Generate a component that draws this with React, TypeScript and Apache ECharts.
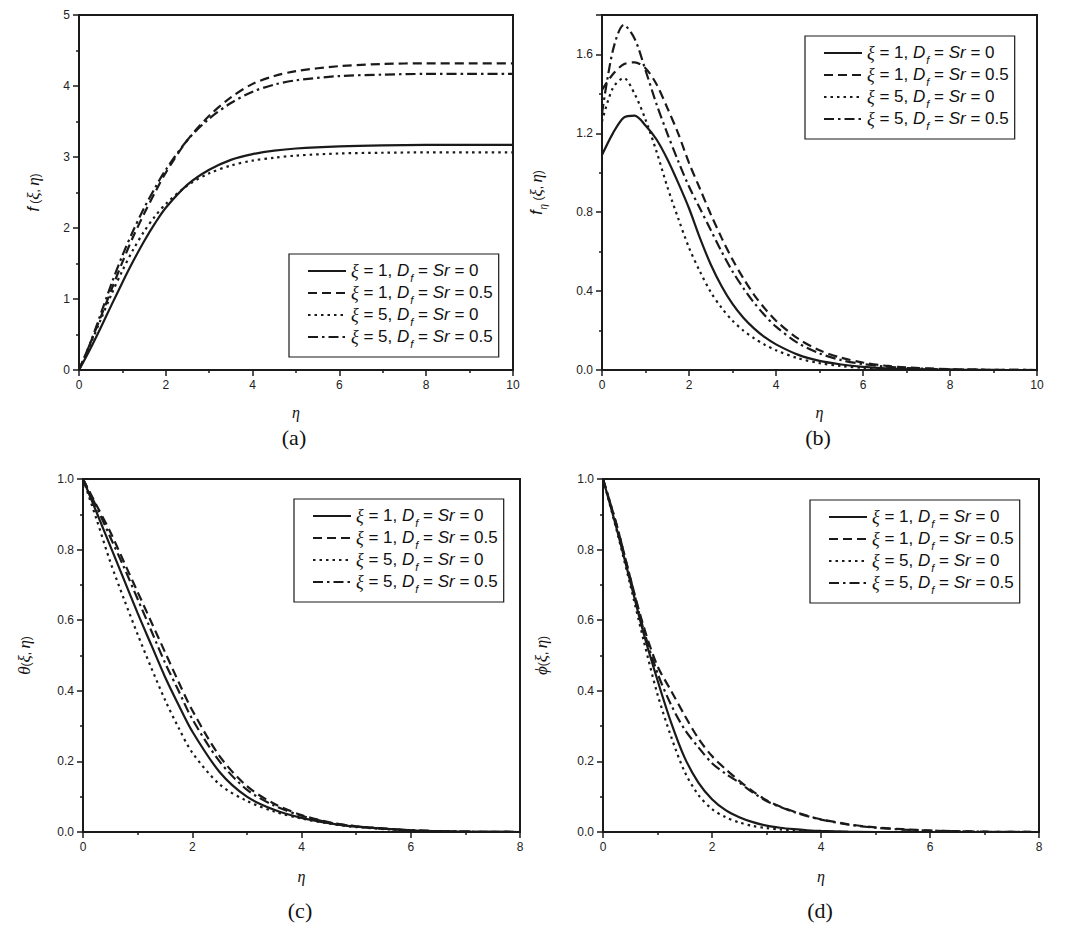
import React, { useEffect, useRef } from "react";
import * as echarts from "echarts";

// ---------- data ----------
const seriesNames = [
  "ξ = 1, Df = Sr = 0",
  "ξ = 1, Df = Sr = 0.5",
  "ξ = 5, Df = Sr = 0",
  "ξ = 5, Df = Sr = 0.5",
];
const xiValues = ["1", "1", "5", "5"];
const dfSrValues = ["0", "0.5", "0", "0.5"];

// (a) f(xi, eta)
const etaA = [0, 0.25, 0.5, 0.75, 1, 1.25, 1.5, 1.75, 2, 2.5, 3, 3.5, 4, 4.5, 5, 6, 7, 8, 9, 10];
const fA1 = [0, 0.286, 0.596, 0.917, 1.233, 1.534, 1.814, 2.065, 2.285, 2.61, 2.82, 2.96, 3.04, 3.09, 3.12, 3.15, 3.165, 3.17, 3.17, 3.17];
const fA2 = [0, 0.365, 0.746, 1.135, 1.52, 1.88, 2.2, 2.5, 2.78, 3.24, 3.58, 3.84, 4.03, 4.14, 4.21, 4.28, 4.31, 4.32, 4.32, 4.32];
const fA3 = [0, 0.345, 0.71, 1.069, 1.4, 1.696, 1.951, 2.164, 2.338, 2.6, 2.77, 2.88, 2.95, 2.99, 3.02, 3.05, 3.06, 3.065, 3.065, 3.065];
const fA4 = [0, 0.365, 0.788, 1.218, 1.613, 1.964, 2.28, 2.563, 2.82, 3.24, 3.54, 3.76, 3.92, 4.02, 4.08, 4.14, 4.16, 4.17, 4.17, 4.17];

// (b) f_eta(xi, eta)
const etaB = [0, 0.25, 0.5, 0.75, 1, 1.25, 1.5, 1.75, 2, 2.25, 2.5, 2.75, 3, 3.25, 3.5, 3.75, 4, 4.5, 5, 5.5, 6, 6.5, 7, 8, 9, 10];
const fpB1 = [1.09, 1.2, 1.28, 1.29, 1.24, 1.17, 1.07, 0.95, 0.82, 0.67, 0.535, 0.425, 0.335, 0.265, 0.21, 0.165, 0.13, 0.078, 0.046, 0.028, 0.016, 0.009, 0.005, 0.001, 0, 0];
const fpB2 = [1.42, 1.5, 1.55, 1.56, 1.53, 1.45, 1.33, 1.2, 1.05, 0.92, 0.79, 0.67, 0.56, 0.465, 0.38, 0.31, 0.25, 0.16, 0.1, 0.062, 0.038, 0.022, 0.013, 0.004, 0.001, 0];
const fpB3 = [1.26, 1.43, 1.48, 1.4, 1.27, 1.11, 0.93, 0.77, 0.62, 0.5, 0.395, 0.315, 0.25, 0.2, 0.16, 0.127, 0.1, 0.06, 0.035, 0.02, 0.011, 0.006, 0.003, 0.001, 0, 0];
const fpB4 = [1.3, 1.62, 1.75, 1.68, 1.52, 1.35, 1.2, 1.06, 0.93, 0.82, 0.71, 0.6, 0.5, 0.415, 0.34, 0.275, 0.22, 0.137, 0.084, 0.05, 0.03, 0.018, 0.01, 0.003, 0.001, 0];

// (c) theta(xi, eta)
const etaC = [0, 0.25, 0.5, 0.75, 1, 1.25, 1.5, 1.75, 2, 2.5, 3, 3.5, 4, 4.5, 5, 6, 7, 8];
const thC1 = [1, 0.905, 0.81, 0.715, 0.62, 0.53, 0.44, 0.36, 0.285, 0.17, 0.1, 0.063, 0.04, 0.025, 0.015, 0.005, 0.001, 0];
const thC2 = [1, 0.925, 0.85, 0.765, 0.68, 0.595, 0.51, 0.425, 0.345, 0.215, 0.13, 0.08, 0.048, 0.028, 0.016, 0.005, 0.001, 0];
const thC3 = [1, 0.885, 0.765, 0.66, 0.56, 0.465, 0.375, 0.295, 0.225, 0.135, 0.088, 0.058, 0.038, 0.024, 0.014, 0.004, 0.001, 0];
const thC4 = [1, 0.92, 0.835, 0.75, 0.66, 0.57, 0.48, 0.4, 0.32, 0.2, 0.12, 0.075, 0.046, 0.027, 0.016, 0.005, 0.001, 0];

// (d) phi(xi, eta)
const etaD = [0, 0.25, 0.5, 0.75, 1, 1.25, 1.5, 1.75, 2, 2.25, 2.5, 2.75, 3, 3.25, 3.5, 3.75, 4, 4.5, 5, 5.5, 6, 7, 8];
const phD1 = [1, 0.86, 0.71, 0.56, 0.43, 0.31, 0.21, 0.14, 0.093, 0.062, 0.042, 0.028, 0.018, 0.012, 0.008, 0.005, 0.003, 0.001, 0, 0, 0, 0, 0];
const phD2 = [1, 0.87, 0.72, 0.58, 0.47, 0.4, 0.33, 0.265, 0.215, 0.178, 0.145, 0.115, 0.09, 0.072, 0.058, 0.046, 0.036, 0.022, 0.013, 0.008, 0.004, 0.001, 0];
const phD3 = [1, 0.855, 0.7, 0.54, 0.39, 0.27, 0.17, 0.105, 0.065, 0.042, 0.027, 0.017, 0.011, 0.007, 0.004, 0.002, 0.001, 0, 0, 0, 0, 0, 0];
const phD4 = [1, 0.87, 0.72, 0.57, 0.45, 0.36, 0.29, 0.24, 0.195, 0.165, 0.14, 0.112, 0.088, 0.071, 0.057, 0.045, 0.035, 0.021, 0.012, 0.007, 0.004, 0.001, 0];

// axis ticks
const xMaxes = [10, 10, 8, 8];
const xIntervals = [2, 2, 2, 2];
const yMaxes = [5, 1.8, 1, 1];
const yIntervals = [1, 0.4, 0.2, 0.2];
const yDigits = [0, 1, 1, 1];
const yNames = [
  "{it|f} ({g|ξ}, {g|η})",
  "{it|f}{sub|η} ({g|ξ}, {g|η})",
  "{g|θ}({g|ξ}, {g|η})",
  "{g|ϕ}({g|ξ}, {g|η})",
];
const panelLabels = ["(a)", "(b)", "(c)", "(d)"];

// ---------- layout / style ----------
const panels = [
  { x: etaA, ys: [fA1, fA2, fA3, fA4] },
  { x: etaB, ys: [fpB1, fpB2, fpB3, fpB4] },
  { x: etaC, ys: [thC1, thC2, thC3, thC4] },
  { x: etaD, ys: [phD1, phD2, phD3, phD4] },
];
const gridRects = [
  [79, 15, 434, 355],
  [602, 15, 435, 355],
  [83, 479, 437, 353],
  [603, 479, 436, 353],
];
const yNameGaps = [34, 54, 47, 50];
const legendPos = [
  [289, 254],
  [805, 36],
  [294, 499],
  [810, 500],
];
const labelPos = [
  [294, 437],
  [818, 437],
  [300, 910],
  [820, 910],
];
const ink = "#1a1a1a";
const dashes: any[] = ["solid", [9, 5], [2.5, 4], [10, 4, 2.5, 4]];
const sans = "Liberation Sans, Arial, sans-serif";
const serif = "Liberation Serif, DejaVu Serif, serif";

const richBase = (size: number, lh: number) => ({
  t: { fontFamily: sans, fontSize: size, color: "#111", lineHeight: lh, verticalAlign: "top" },
  it: { fontFamily: sans, fontStyle: "italic", fontSize: size, color: "#111", lineHeight: lh, verticalAlign: "top" },
  g: { fontFamily: serif, fontStyle: "italic", fontSize: size + 1, color: "#111", lineHeight: lh, verticalAlign: "top" },
  sub: {
    fontFamily: sans,
    fontStyle: "italic",
    fontSize: Math.round(size * 0.65),
    color: "#111",
    lineHeight: lh - Math.round(size * 0.6),
    padding: [Math.round(size * 0.6), 0, 0, 1],
    verticalAlign: "top",
  },
});

export default function App() {
  const ref = useRef<HTMLDivElement>(null);
  useEffect(() => {
    if (!ref.current) return;
    const chart = echarts.init(ref.current, undefined, { renderer: "svg" });

    const grid = gridRects.map(([l, t, w, h]) => ({
      left: l,
      top: t,
      width: w,
      height: h,
      show: true,
      borderColor: ink,
      borderWidth: 2,
      backgroundColor: "transparent",
    }));

    const xAxis = panels.map((p, i) => ({
      type: "value",
      gridIndex: i,
      min: 0,
      max: xMaxes[i],
      interval: xIntervals[i],
      name: "{g|η}",
      nameLocation: "middle",
      nameGap: i < 2 ? 34 : 36,
      nameTextStyle: { rich: richBase(15, 18) },
      axisLine: { show: true, onZero: false, lineStyle: { color: ink, width: 2 } },
      axisTick: { show: true, inside: false, length: 6, lineStyle: { color: ink, width: 1.5 } },
      minorTick: { show: true, splitNumber: 2, length: 3, lineStyle: { color: ink, width: 1.5 } },
      splitLine: { show: false },
      minorSplitLine: { show: false },
      axisLabel: { margin: 9, fontFamily: sans, fontSize: 12, color: "#222", formatter: (v: number) => String(v) },
    }));

    const yAxis = panels.map((p, i) => ({
      type: "value",
      gridIndex: i,
      min: 0,
      max: yMaxes[i],
      interval: yIntervals[i],
      name: yNames[i],
      nameLocation: "middle",
      nameGap: yNameGaps[i],
      nameRotate: 90,
      nameTextStyle: { rich: richBase(16, 20) },
      axisLine: { show: true, onZero: false, lineStyle: { color: ink, width: 2 } },
      axisTick: { show: true, inside: false, length: 6, lineStyle: { color: ink, width: 1.5 } },
      minorTick: { show: true, splitNumber: 2, length: 3, lineStyle: { color: ink, width: 1.5 } },
      splitLine: { show: false },
      minorSplitLine: { show: false },
      axisLabel: {
        margin: 9,
        fontFamily: sans,
        fontSize: 12,
        color: "#222",
        formatter: (v: number) => {
          const q = v / yIntervals[i];
          if (Math.abs(q - Math.round(q)) > 1e-6) return "";
          return v.toFixed(yDigits[i]);
        },
      },
    }));

    const series: any[] = [];
    panels.forEach((p, i) => {
      p.ys.forEach((ys, k) => {
        series.push({
          type: "line",
          name: seriesNames[k],
          xAxisIndex: i,
          yAxisIndex: i,
          data: p.x.map((e, j) => [e, ys[j]]),
          symbol: "none",
          showSymbol: false,
          smooth: 0.3,
          clip: true,
          lineStyle: { color: ink, width: 2.2, type: dashes[k] },
          itemStyle: { color: ink },
          z: 3,
        });
      });
    });

    const legend = legendPos.map(([l, t]) => ({
      show: true,
      data: seriesNames,
      orient: "vertical",
      left: l,
      top: t,
      itemWidth: 38,
      itemHeight: 14,
      itemGap: 1,
      padding: [8, 6, 8, 18],
      borderColor: ink,
      borderWidth: 1.2,
      backgroundColor: "#fff",
      selectedMode: false,
      itemStyle: { color: "rgba(0,0,0,0)", borderColor: "rgba(0,0,0,0)", borderWidth: 0, opacity: 0 },
      formatter: (name: string) => {
        const k = seriesNames.indexOf(name);
        return `{g|ξ}{t| = ${xiValues[k]}, }{it|D}{sub|f}{t| = }{it|Sr}{t| = ${dfSrValues[k]}}`;
      },
      textStyle: { rich: richBase(17, 18) },
    }));

    const graphic = panelLabels.map((s, i) => ({
      type: "text",
      x: labelPos[i][0],
      y: labelPos[i][1],
      style: {
        text: s,
        fontFamily: serif,
        fontSize: 22,
        fill: "#111",
        textAlign: "center",
        textVerticalAlign: "middle",
      },
    }));

    chart.setOption({
      animation: false,
      backgroundColor: "#fff",
      grid,
      xAxis,
      yAxis,
      legend,
      series,
      graphic,
    });
    return () => chart.dispose();
  }, []);
  return (
    <div
      ref={ref}
      style={{ position: "absolute", left: 0, top: 0, width: 1066, height: 940, background: "#fff" }}
    />
  );
}
